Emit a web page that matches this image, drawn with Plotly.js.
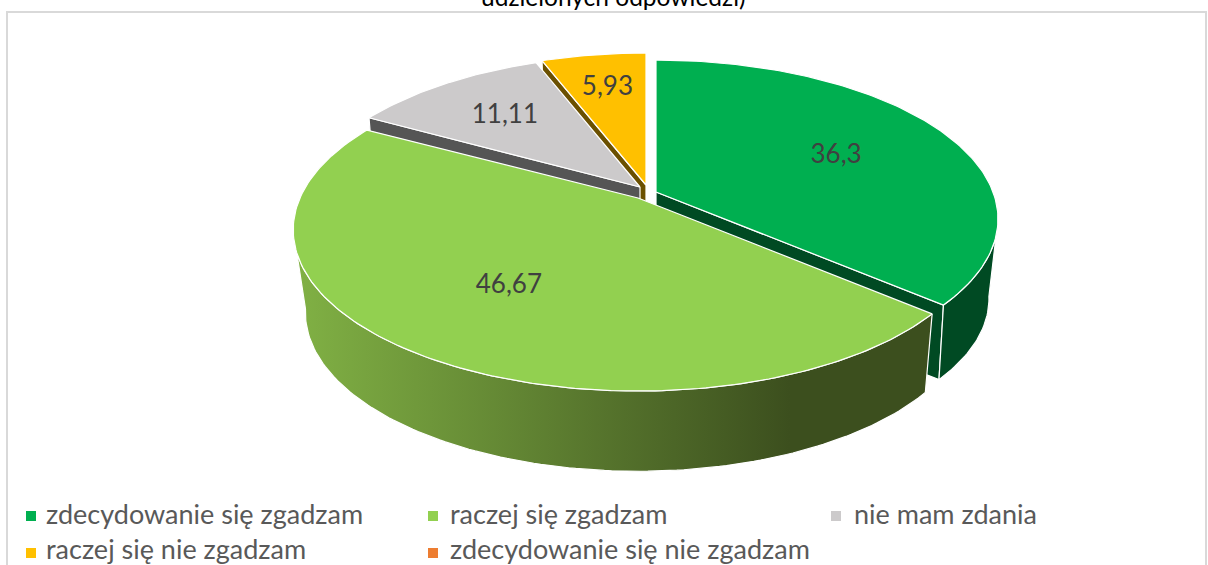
<!DOCTYPE html>
<html><head><meta charset="utf-8">
<script src="https://cdn.plot.ly/plotly-3.0.0.min.js"></script>
<style>html,body{margin:0;padding:0;background:#fff;overflow:hidden}#c{width:1208px;height:565px}</style>
</head><body><div id="c"></div>
<script>
// ---- data ----
const categories = ['zdecydowanie się zgadzam','raczej się zgadzam','nie mam zdania','raczej się nie zgadzam','zdecydowanie się nie zgadzam'];
const values = [36.3, 46.67, 11.11, 5.93, 0];
const titleLine = 'udzielonych odpowiedzi)';
// ---- styles ----
const topColors = ['#00AF50','#92D050','#CCCACB','#FFC000','#ED7D31'];
const sideColors = ['#004A23','#3C4F1E','#555555','#6B5000','#ED7D31'];
// ---- projection of the tilted, exploded pie (per slice) ----
const apexX = [656,638,640,646,650];
const apexY = [192,198,187,185,190];
const radiusX = [337,338,338,338,338];
const radiusY = [154.3,155,158,158,158];
const persp = [0.17,0.197,0.197,0.197,0.197];
const lowerPersp = [0.19,0.22,0.197,0.197,0.197];
const lowerScaleX = [0.97,0.96,0.975,0.975,0.975];
const lowerScaleY = [0.955,0.975,0.975,0.975,0.975];
const depth = [78,79.5,80,80,80];
const labelRadius = [0.61,0.61,0.67,0.72,0.6];
const WALL_FROM = 100, WALL_TO = 258.6;

const total = values.reduce((a,b)=>a+b,0);
const starts = []; let acc = 0;
values.forEach(v=>{starts.push(acc); acc += v/total*360;});
const end = i => starts[i]+values[i]/total*360;

function pt(i, deg, r, lower){
  const t = deg*Math.PI/180, x = r*Math.sin(t), y = -r*Math.cos(t);
  const w = 1-(lower?lowerPersp[i]:persp[i])*y;
  const sx = lower?lowerScaleX[i]:1, sy = lower?lowerScaleY[i]:1;
  return [apexX[i]+sx*radiusX[i]*x/w, apexY[i]+(lower?depth[i]:0)+sy*radiusY[i]*y/w];
}
function arc(i,a,b,lower){
  const out=[], n=Math.max(2,Math.ceil(Math.abs(b-a)));
  for(let j=0;j<=n;j++) out.push(pt(i,a+(b-a)*j/n,1,lower));
  return out;
}
function poly(points,color,extra){
  const xs=points.map(p=>p[0]), ys=points.map(p=>p[1]);
  xs.push(xs[0]); ys.push(ys[0]);
  return Object.assign({type:'scatter',mode:'lines',x:xs,y:ys,fill:'toself',fillcolor:color,
    line:{color:'#FFFFFF',width:1.2},hoverinfo:'skip',showlegend:false},extra||{});
}
function topFace(i){
  return poly([pt(i,0,0,false)].concat(arc(i,starts[i],end(i),false)),topColors[i]);
}
function radial(i,deg){
  return poly([pt(i,0,0,false),pt(i,deg,1,false),pt(i,deg,1,true),pt(i,0,0,true)],sideColors[i]);
}
function outer(i,extra){
  const a=Math.max(starts[i],WALL_FROM), b=Math.min(end(i),WALL_TO);
  return poly(arc(i,a,b,false).concat(arc(i,b,a,true)),sideColors[i],extra);
}

const traces = [
  radial(3,starts[3]), topFace(3),
  radial(2,starts[2]), topFace(2),
  radial(0,end(0)), outer(0), topFace(0),
  outer(1,{fillcolor:undefined,fillgradient:{type:'horizontal',start:300,stop:790,
     colorscale:[[0,'#80B044'],[1,'#3C4F1E']]}}),
  topFace(1)
];

// data labels
const idx = values.map((v,i)=>i).filter(i=>values[i]>0);
const lab = idx.map(i=>pt(i,starts[i]+values[i]/total*180,labelRadius[i],false));
traces.push({type:'scatter',mode:'text',x:lab.map(p=>p[0]+1),y:lab.map(p=>p[1]+2),
  text:idx.map(i=>String(values[i]).replace('.',',')),textposition:'middle center',
  textfont:{family:'Lato',size:26,color:'#404040'},hoverinfo:'skip',showlegend:false});

// legend
const legColX=[31,433,836], legRowY=[516,553], legTextX=[46,450,854], legTextY=[517,552.5];
const legX=categories.map((c,i)=>legColX[i%3]), legY=categories.map((c,i)=>legRowY[Math.floor(i/3)]);
traces.push({type:'scatter',mode:'markers',x:legX,y:legY,
  marker:{symbol:'square',size:10,color:topColors,line:{width:0}},hoverinfo:'skip',showlegend:false});
traces.push({type:'scatter',mode:'text',x:categories.map((c,i)=>legTextX[i%3]),y:categories.map((c,i)=>legTextY[Math.floor(i/3)]),
  text:categories,textposition:'middle right',
  textfont:{family:'Lato',size:27,color:'#595959'},hoverinfo:'skip',showlegend:false});

const layout={
  width:1208,height:565,margin:{l:0,r:0,t:0,b:0},paper_bgcolor:'#fff',plot_bgcolor:'#fff',showlegend:false,
  xaxis:{range:[0,1208],visible:false,fixedrange:true},
  yaxis:{range:[565,0],visible:false,fixedrange:true},
  shapes:[{type:'rect',xref:'x',yref:'y',x0:7,y0:12,x1:1206,y1:640,line:{color:'#D9D9D9',width:2},layer:'below'}],
  annotations:[{xref:'x',yref:'y',x:613,y:13,yanchor:'bottom',xanchor:'center',showarrow:false,
    text:titleLine,font:{family:'Lato',size:24.5,color:'#000'}}]
};
Plotly.newPlot('c',traces,layout,{displayModeBar:false,staticPlot:true});
</script></body></html>
